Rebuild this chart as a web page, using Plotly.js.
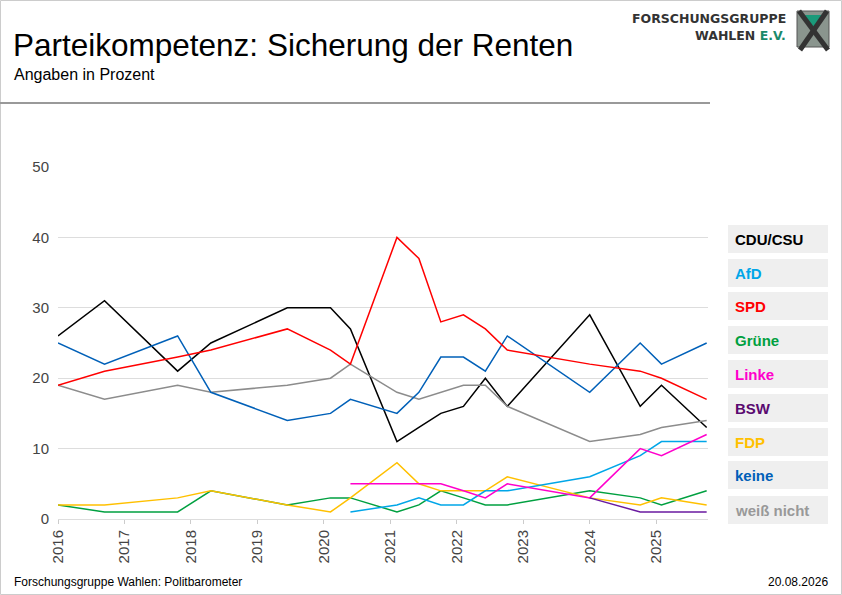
<!DOCTYPE html>
<html><head><meta charset="utf-8">
<script src="https://cdn.plot.ly/plotly-3.0.1.min.js"></script>
<style>body{margin:0}#c{width:842px;height:595px}</style></head>
<body><div id="c"></div><script>
const xAll = [2016.0,2016.7,2017.8,2018.3,2019.45,2020.1,2020.4,2021.1,2021.43,2021.76,2022.1,2022.43,2022.76,2024.0,2024.76,2025.08,2025.76];
const xNew = [2020.4,2021.1,2021.43,2021.76,2022.1,2022.43,2022.76,2024.0,2024.76,2025.08,2025.76];
const xBSW = [2024.0,2024.76,2025.08,2025.76];
const cdu   = [26,31,21,25,30,30,27,11,13,15,16,20,16,29,16,19,13];
const spd   = [19,21,23,24,27,24,22,40,37,28,29,27,24,22,21,20,17];
const keine = [25,22,26,18,14,15,17,15,18,23,23,21,26,18,25,22,25];
const weiss = [19,17,19,18,19,20,22,18,17,18,19,19,16,11,12,13,14];
const gruene= [2,1,1,4,2,3,3,1,2,4,3,2,2,4,3,2,4];
const fdp   = [2,2,3,4,2,1,3,8,5,4,4,4,6,3,2,3,2];
const afd   = [1,2,3,2,2,4,4,6,9,11,11];
const linke = [5,5,5,5,4,3,5,3,10,9,12];
const bsw   = [3,1,1,1];
const names = ["CDU/CSU","AfD","SPD","Grüne","Linke","BSW","FDP","keine","weiß nicht"];
const colors= ["#000000","#00a6e8","#ff0000","#00a040","#ff00cc","#5a0a70","#ffc000","#0060b8","#999999"];
const tickVals=[2016,2017,2018,2019,2020,2021,2022,2023,2024,2025];

const series=[[xAll,cdu,"#000000"],[xAll,weiss,"#8c8c8c"],[xAll,keine,"#0060b8"],[xAll,spd,"#ff0000"],
 [xAll,gruene,"#00a040"],[xAll,fdp,"#ffc000"],[xNew,afd,"#00a6e8"],[xNew,linke,"#ff00cc"],[xBSW,bsw,"#6a1aa0"]];
const traces=series.map(s=>({x:s[0],y:s[1],mode:"lines",line:{color:s[2],width:1.5},hoverinfo:"skip"}));

const L=58,W=650,T=167,H=352;
const px=x=>(x-L)/W, py=y=>(T+H-y)/H;
const ann=[
 {text:"Parteikompetenz: Sicherung der Renten",x:11,y:45,font:{size:31.5,color:"#000"}},
 {text:"Angaben in Prozent",x:12,y:74,font:{size:16,color:"#000"}},
 {text:"Forschungsgruppe Wahlen: Politbarometer",x:12,y:582,font:{size:12,color:"#000"}},
 {text:"20.08.2026",x:830,y:582,xanchor:"right",font:{size:12,color:"#000"}},
 {text:"<b>FORSCHUNGSGRUPPE</b>",x:788,y:18,xanchor:"right",font:{size:12.5,color:"#333",family:"DejaVu Sans"}},
 {text:"<b>WAHLEN <span style='color:#1a8a6a'>E.V.</span></b>",x:788,y:35,xanchor:"right",font:{size:12.5,color:"#333",family:"DejaVu Sans"}}
].map(a=>Object.assign({xref:"paper",yref:"paper",xanchor:"left",yanchor:"middle",showarrow:false},a,
  {x:px(a.x),y:py(a.y)}));
function P(x,y){return px(x).toFixed(4)+","+py(y).toFixed(4);}
const shapes=[
 {type:"rect",xref:"paper",yref:"paper",x0:px(0.5),x1:px(841.5),y0:py(0.5),y1:py(594.5),line:{color:"#cccccc",width:1}},
 {type:"line",xref:"paper",yref:"paper",x0:px(0),x1:px(710),y0:py(103),y1:py(103),line:{color:"#999",width:2}},
 {type:"rect",xref:"paper",yref:"paper",x0:px(797),x1:px(829),y0:py(11),y1:py(47),line:{color:"#555",width:1},fillcolor:"#8a958e"},
 {type:"path",xref:"paper",yref:"paper",path:"M"+P(802,15)+" L"+P(824,15)+" L"+P(813,29)+" Z",fillcolor:"#1a9a7a",line:{width:0}},
 {type:"line",xref:"paper",yref:"paper",x0:px(799),y0:py(11),x1:px(828),y1:py(50),line:{color:"#333",width:5}},
 {type:"line",xref:"paper",yref:"paper",x0:px(827),y0:py(11),x1:px(800),y1:py(50),line:{color:"#333",width:5}}
];
const centers=[239,273,306,340,374,408,442,475,510];
names.forEach((n,i)=>{
 shapes.push({type:"rect",xref:"paper",yref:"paper",x0:px(728),x1:px(828),y0:py(centers[i]-14),y1:py(centers[i]+14),fillcolor:"#efefef",line:{width:0}});
 ann.push({xref:"paper",yref:"paper",x:px(733),y:py(centers[i]),xanchor:"left",yanchor:"middle",showarrow:false,
   text:"<b>"+n+"</b>",font:{size:15,color:colors[i]}});
});
Plotly.newPlot("c",traces,{
 width:842,height:595,showlegend:false,paper_bgcolor:"#fff",plot_bgcolor:"#fff",
 font:{family:"Liberation Sans, Arial, sans-serif",color:"#444"},
 margin:{l:L,r:842-L-W,t:T,b:595-T-H},
 xaxis:{range:[2016,2025.78],tickvals:tickVals,ticktext:tickVals.map(String),tickangle:-90,showgrid:false,zeroline:false,
   ticks:"outside",ticklen:4,tickcolor:"#ccc",showline:true,linecolor:"#ddd",tickfont:{size:15,color:"#444"}},
 yaxis:{range:[0,50],tickvals:[0,10,20,30,40,50],gridcolor:"#dddddd",zeroline:false,ticks:"",tickfont:{size:15,color:"#444"},ticklabelstandoff:8},
 annotations:ann,shapes:shapes
},{staticPlot:true});
</script></body></html>
